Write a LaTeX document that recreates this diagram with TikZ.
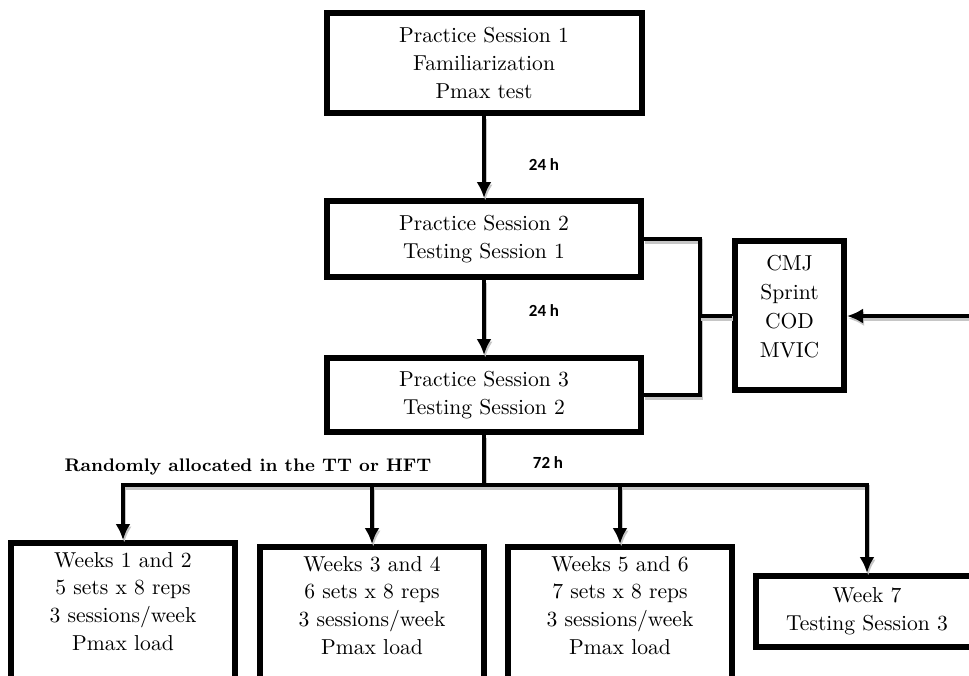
\documentclass[tikz,border=0pt]{standalone}
\usepackage{fontspec}
\newfontfamily\hoursfont{Carlito}
\usetikzlibrary{arrows.meta}

\begin{document}
\begin{tikzpicture}[x=0.5pt, y=-0.5pt, >={Latex[length=8pt,width=7.5pt]},
    box/.style={draw, line width=3pt, align=center, inner sep=0pt,
        font=\fontsize{10.8}{13.9}\selectfont},
    weekbox/.style={box, anchor=north, inner ysep=4.5pt, text depth=30pt, minimum width=112pt},
    conn/.style={line width=2.2pt,
        preaction={draw=gray!45, line width=2.2pt, transform canvas={shift={(0.6pt,-1.3pt)}}}},
    hours/.style={font=\hoursfont\bfseries\fontsize{8.5}{10}\selectfont}]

\useasboundingbox (0,0) rectangle (969,675);
\clip (0,0) rectangle (969,675);

%\draw[step=50,color=gray!40] (0,0) grid (969,675);

% sessions
\node[box, minimum width=157.5pt, minimum height=50pt] (ps1) at (484,63)
    {Practice Session 1\\Familiarization\\Pmax test};
\node[box, minimum width=157pt, minimum height=38pt] (ps2) at (484,239)
    {Practice Session 2\\Testing Session 1};
\node[box, minimum width=157pt, minimum height=37pt] (ps3) at (484,395)
    {Practice Session 3\\Testing Session 2};
\node[box, minimum width=54.5pt, minimum height=74.5pt, text depth=9pt,
    font=\fontsize{10.8}{14.5}\selectfont] (tests) at (789.5,315.5)
    {CMJ\\Sprint\\COD\\MVIC};

% training blocks
\node[weekbox] (wk12) at (123,540) {Weeks 1 and 2\\5 sets x 8 reps\\3 sessions/week\\Pmax load};
\node[weekbox] (wk34) at (372,544) {Weeks 3 and 4\\6 sets x 8 reps\\3 sessions/week\\Pmax load};
\node[weekbox] (wk56) at (620,544) {Weeks 5 and 6\\7 sets x 8 reps\\3 sessions/week\\Pmax load};
\node[box, minimum width=111pt, minimum height=35.5pt] (wk7) at (867,611.5) {Week 7\\Testing Session 3};

% labels
\node[hours] (h1) at (544,165) {24 h};
\node[hours] (h2) at (544,311) {24 h};
\node[hours] (h3) at (548,463) {72 h};
\node[font=\fontsize{9.1}{11}\bfseries] (alloc) at (248,467) {Randomly allocated in the TT or HFT};

\coordinate (bus) at (484,485);
\coordinate (brk) at (700,316);
\coordinate (src) at (969,316);

\draw[conn, ->] (ps1.south) -- (ps2.north);
\draw[conn, ->] (ps2.south) -- (ps3.north);
\draw[conn] (ps2.east) -| (brk) |- (ps3.east);
\draw[conn] (brk) -- (brk -| tests.west);
\draw[conn, ->] (src) -- (src -| tests.east);

\draw[conn] (ps3.south) -- (bus);
\draw[conn, ->] (bus) -| (wk12.north);
\draw[conn, ->] (bus) -| (wk7.north);
\foreach \w in {wk34, wk56}
    \draw[conn, ->] (bus -| \w.north) -- (\w.north);

\end{tikzpicture}
\end{document}
